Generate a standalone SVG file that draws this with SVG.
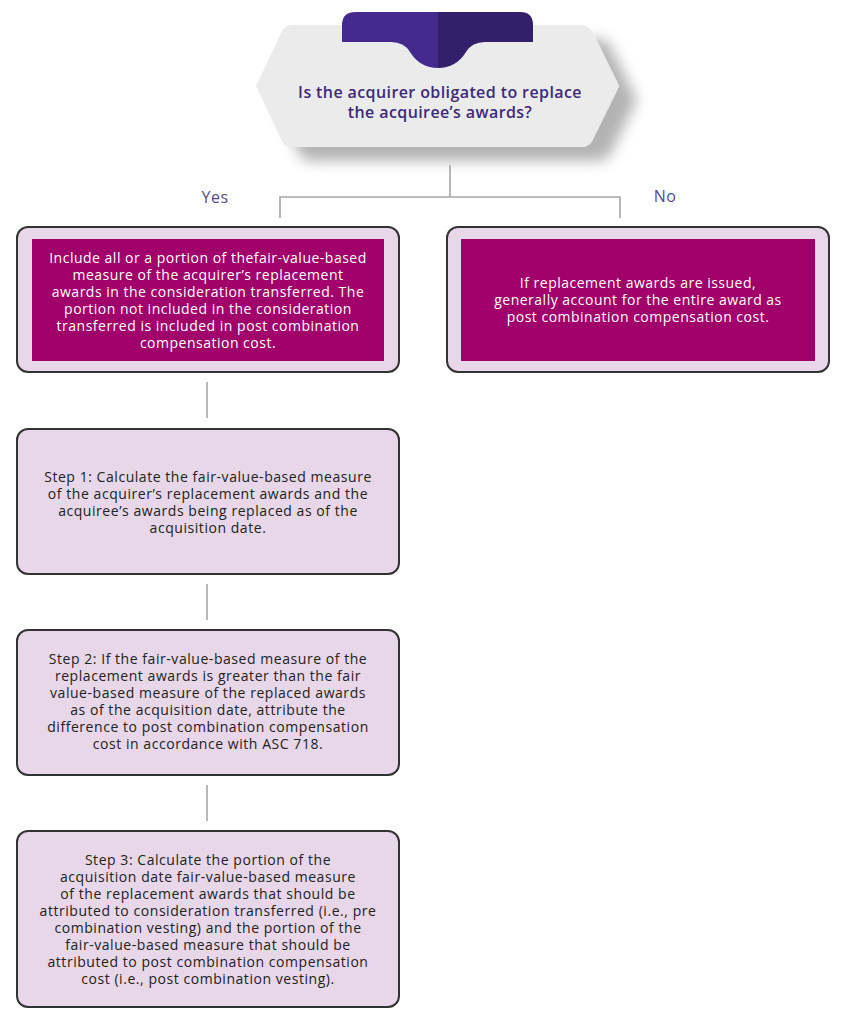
<svg xmlns="http://www.w3.org/2000/svg" width="848" height="1024" viewBox="0 0 848 1024">
<defs>
<filter id="sh" x="-20%" y="-30%" width="150%" height="190%">
<feGaussianBlur in="SourceAlpha" stdDeviation="7"/>
<feOffset dx="18" dy="14" result="b"/>
<feComponentTransfer><feFuncA type="linear" slope="0.3"/></feComponentTransfer>
<feMerge><feMergeNode/><feMergeNode in="SourceGraphic"/></feMerge>
</filter>
<clipPath id="tabL"><rect x="330" y="0" width="108" height="80"/></clipPath>
<clipPath id="tabR"><rect x="438" y="0" width="108" height="80"/></clipPath>
</defs>
<style>
.outer{fill:#E7D7E9;stroke:#333;stroke-width:2}
.inner{fill:#A1006B}
.wt{font-family:"Open Sans","Liberation Sans",sans-serif;font-size:14px;letter-spacing:0.5px;fill:#fff;text-anchor:middle}
.dt{font-family:"Open Sans","Liberation Sans",sans-serif;font-size:14px;letter-spacing:0.55px;fill:#222;text-anchor:middle}
.lbl{font-family:"Open Sans","Liberation Sans",sans-serif;font-size:16px;letter-spacing:0.5px;fill:#564A8A;text-anchor:middle}
.q{font-family:"Open Sans","Liberation Sans",sans-serif;font-size:16px;letter-spacing:0.4px;font-weight:600;fill:#3D2A78;text-anchor:middle}
.con{fill:none;stroke:#A6A6A6;stroke-width:1.6}
</style>
<rect width="848" height="1024" fill="#fff"/>

<g id="question">
<path d="M292,25 L581,25 Q588,25 592,31 L619,86 L592,141 Q588,147 581,147 L292,147 Q285,147 282,141 L256,86 L282,31 Q285,25 292,25 Z" fill="#EBEBEC" filter="url(#sh)"/>
<g clip-path="url(#tabL)"><path d="M356,12 L520,12 Q533,12 533,25 L533,42 L485,42 Q472,42 466,52 Q456,68 438,68 Q420,68 410,52 Q404,42 391,42 L342,42 L342,25 Q342,12 356,12 Z" fill="#452A8E"/></g>
<g clip-path="url(#tabR)"><path d="M356,12 L520,12 Q533,12 533,25 L533,42 L485,42 Q472,42 466,52 Q456,68 438,68 Q420,68 410,52 Q404,42 391,42 L342,42 L342,25 Q342,12 356,12 Z" fill="#33206A"/></g>
<text class="q" x="440" y="98">Is the acquirer obligated to replace</text>
<text class="q" x="440" y="118">the acquiree’s awards?</text>
</g>

<g id="connectors">
<path class="con" d="M450,165 V197 M280,218 V197 H620 V218"/>
<path class="con" d="M207,382 V418"/>
<path class="con" d="M207,584 V620"/>
<path class="con" d="M207,785 V821"/>
</g>

<g id="label-yes"><text class="lbl" x="215" y="203">Yes</text></g>
<g id="label-no"><text class="lbl" x="665" y="202">No</text></g>

<g id="yes-box">
<rect class="outer" x="17" y="227" width="382" height="145" rx="11"/>
<rect class="inner" x="32" y="239" width="352" height="122"/>
<text class="wt" x="208" y="263">Include all or a portion of thefair-value-based</text>
<text class="wt" x="208" y="280">measure of the acquirer’s replacement</text>
<text class="wt" x="208" y="297">awards in the consideration transferred. The</text>
<text class="wt" x="208" y="314">portion not included in the consideration</text>
<text class="wt" x="208" y="331">transferred is included in post combination</text>
<text class="wt" x="208" y="348">compensation cost.</text>
</g>

<g id="no-box">
<rect class="outer" x="447" y="227" width="382" height="145" rx="11"/>
<rect class="inner" x="461" y="239" width="354" height="122"/>
<text class="wt" x="638" y="288">If replacement awards are issued,</text>
<text class="wt" x="638" y="305">generally account for the entire award as</text>
<text class="wt" x="638" y="322">post combination compensation cost.</text>
</g>

<g id="step1">
<rect class="outer" x="17" y="429" width="382" height="145" rx="11"/>
<text class="dt" x="208" y="482">Step 1: Calculate the fair-value-based measure</text>
<text class="dt" x="208" y="499">of the acquirer’s replacement awards and the</text>
<text class="dt" x="208" y="516">acquiree’s awards being replaced as of the</text>
<text class="dt" x="208" y="533">acquisition date.</text>
</g>

<g id="step2">
<rect class="outer" x="17" y="630" width="382" height="145" rx="11"/>
<text class="dt" x="208" y="664">Step 2: If the fair-value-based measure of the</text>
<text class="dt" x="208" y="681">replacement awards is greater than the fair</text>
<text class="dt" x="208" y="698">value-based measure of the replaced awards</text>
<text class="dt" x="208" y="715">as of the acquisition date, attribute the</text>
<text class="dt" x="208" y="732">difference to post combination compensation</text>
<text class="dt" x="208" y="749">cost in accordance with ASC 718.</text>
</g>

<g id="step3">
<rect class="outer" x="17" y="831" width="382" height="176" rx="11"/>
<text class="dt" x="208" y="865">Step 3: Calculate the portion of the</text>
<text class="dt" x="208" y="882">acquisition date fair-value-based measure</text>
<text class="dt" x="208" y="899">of the replacement awards that should be</text>
<text class="dt" x="208" y="916">attributed to consideration transferred (i.e., pre</text>
<text class="dt" x="208" y="933">combination vesting) and the portion of the</text>
<text class="dt" x="208" y="950">fair-value-based measure that should be</text>
<text class="dt" x="208" y="967">attributed to post combination compensation</text>
<text class="dt" x="208" y="984">cost (i.e., post combination vesting).</text>
</g>
</svg>
